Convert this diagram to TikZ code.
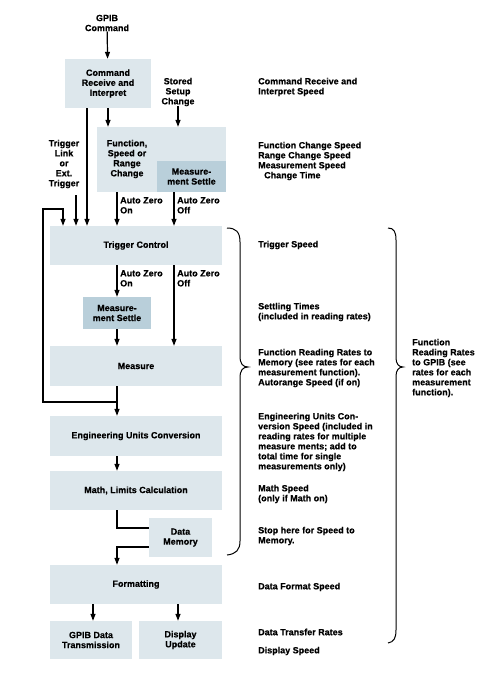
\documentclass[tikz,border=0pt]{standalone}
\usepackage{fontspec}
\setmainfont{Liberation Sans}[BoldFeatures={FakeBold=0.6}]
\usepackage{tikz}
\usetikzlibrary{arrows.meta}

\definecolor{boxlight}{HTML}{DDE7EC}
\definecolor{boxdark}{HTML}{B9CFDA}

\begin{document}
\begin{tikzpicture}[x=1pt, y=-1pt,
    txt/.style={font=\fontsize{9}{10}\selectfont\bfseries, inner sep=0pt},
    box/.style={txt, fill=boxlight, align=center},
    darkbox/.style={txt, fill=boxdark, align=center},
    lbl/.style={txt, align=center},
    note/.style={txt, align=left, anchor=west},
    flow/.style={line width=1.2pt, -{Triangle[length=7pt,width=5pt]}},
    wire/.style={line width=1.2pt}]

    \useasboundingbox (0,0) rectangle (502,675);

    % Place the boxes of the flow
    \node[box, minimum width=86, minimum height=49] (cmd) at (108,83.5) {Command\\Receive and\\Interpret};
    \node[box, minimum width=129, minimum height=65] (func) at (161.5,159.5) {};
    \node[darkbox, minimum width=69, minimum height=31] (settleA) at (191.5,176.5) {Measure-\\ment Settle};
    \node[box, minimum width=172, minimum height=39] (trig) at (136,245.5) {Trigger Control};
    \node[darkbox, minimum width=68, minimum height=32] (settleB) at (117,313) {Measure-\\ment Settle};
    \node[box, minimum width=172, minimum height=40] (meas) at (136,366) {Measure};
    \node[box, minimum width=172, minimum height=40] (eng) at (136,436) {Engineering Units Conversion};
    \node[box, minimum width=172, minimum height=39] (math) at (136,490.5) {Math, Limits Calculation};
    \node[box, minimum width=63, minimum height=39] (mem) at (180.5,537.5) {Data\\Memory};
    \node[box, minimum width=172, minimum height=39] (fmt) at (136,584.5) {Formatting};
    \node[box, minimum width=82, minimum height=38] (gpib) at (91,640) {GPIB Data\\Transmission};
    \node[box, minimum width=83, minimum height=38] (disp) at (180.5,640) {Display\\Update};

    % Place the free labels
    \node[lbl] (gpibcmd) at (107,23) {GPIB\\Command};
    \node[lbl] (stored) at (178,92) {Stored\\Setup\\Change};
    \node[lbl] (functxt) at (127,159) {Function,\\Speed or\\Range\\Change};
    \node[lbl] (trigext) at (64,164) {Trigger\\Link\\or\\Ext.\\Trigger};
    \node[lbl, align=left, anchor=north west] (azonA) at (120,197) {Auto Zero\\On};
    \node[lbl, align=left, anchor=north west] (azoffA) at (177,197) {Auto Zero\\Off};
    \node[lbl, align=left, anchor=north west] (azonB) at (120,270) {Auto Zero\\On};
    \node[lbl, align=left, anchor=north west] (azoffB) at (177,270) {Auto Zero\\Off};

    % Place the notes on the right
    \node[note] (nCmd) at (258,87) {Command Receive and\\Interpret Speed};
    \node[note] (nFunc) at (258,161) {Function Change Speed\\Range Change Speed\\Measurement Speed\\\hspace{6pt}Change Time};
    \node[note] (nTrig) at (258,245) {Trigger Speed};
    \node[note] (nSettle) at (258,312) {Settling Times\\(included in reading rates)};
    \node[note] (nRead) at (258,368) {Function Reading Rates to\\Memory (see rates for each\\measurement function).\\Autorange Speed (if on)};
    \node[note] (nEng) at (258,442) {Engineering Units Con-\\version Speed (included in\\reading rates for multiple\\measure ments; add to\\total time for single\\measurements only)};
    \node[note] (nMath) at (258,494) {Math Speed\\(only if Math on)};
    \node[note] (nStop) at (258,536) {Stop here for Speed to\\Memory.};
    \node[note] (nFmt) at (258,587) {Data Format Speed};
    \node[note] (nXfer) at (258,632) {Data Transfer Rates};
    \node[note] (nDisp) at (258,651) {Display Speed};
    \node[note] (nGpib) at (412,368) {Function\\Reading Rates\\to GPIB (see\\rates for each\\measurement\\function).};

    % Corner points of the wires
    \coordinate (cmdLeft) at (87,108);
    \coordinate (extTop) at (76,195);
    \coordinate (loopA) at (117,402);
    \coordinate (loopB) at (43,402);
    \coordinate (loopC) at (43,209);
    \coordinate (loopD) at (63,209);
    \coordinate (memIn) at (117,528);
    \coordinate (memOut) at (117,547);

    % Draw the arrows into the trigger
    \draw[flow] (gpibcmd) -- (cmd);
    \draw[flow] (cmd.south) -- (cmd.south |- func.north);
    \draw[flow] (stored) -- (stored |- func.north);
    \draw[flow] (cmdLeft) -- (cmdLeft |- trig.north);
    \draw[flow] (extTop) -- (extTop |- trig.north);
    \draw[flow] (func.south -| 117,0) -- (trig.north -| 117,0);
    \draw[flow] (func.south -| 174,0) -- (trig.north -| 174,0);
    \draw[flow] (loopA) -- (loopB) -- (loopC) -- (loopD) -- (loopD |- trig.north);

    % Draw the arrows down to the outputs
    \draw[flow] (settleB.north |- trig.south) -- (settleB.north);
    \draw[flow] (settleB.south) -- (settleB.south |- meas.north);
    \draw[flow] (trig.south -| 174,0) -- (meas.north -| 174,0);
    \draw[flow] (meas.south -| loopA) -- (eng.north -| loopA);
    \draw[flow] (eng.south -| loopA) -- (math.north -| loopA);
    \draw[wire] (math.south -| memIn) -- (memIn) -- (mem.west |- memIn);
    \draw[flow] (mem.west |- memOut) -- (memOut) -- (fmt.north -| memOut);
    \draw[flow] (fmt.south -| 93,0) -- (gpib.north -| 93,0);
    \draw[flow] (fmt.south -| 178,0) -- (disp.north -| 178,0);

    % Draw the braces
    \draw[line width=1pt] (227,228) .. controls (236,228) and (240,232) .. (240,242)
        -- (240,356) .. controls (240,364) and (243,367) .. (248,367)
        .. controls (243,367) and (240,370) .. (240,378)
        -- (240,541) .. controls (240,550) and (236,554) .. (227,555);
    \draw[line width=1pt] (388,228) .. controls (394,228) and (396,232) .. (396,240)
        -- (396,358) .. controls (396,364) and (399,367) .. (403,367)
        .. controls (399,367) and (396,370) .. (396,376)
        -- (396,630) .. controls (396,638) and (394,642) .. (388,643);

\end{tikzpicture}
\end{document}
